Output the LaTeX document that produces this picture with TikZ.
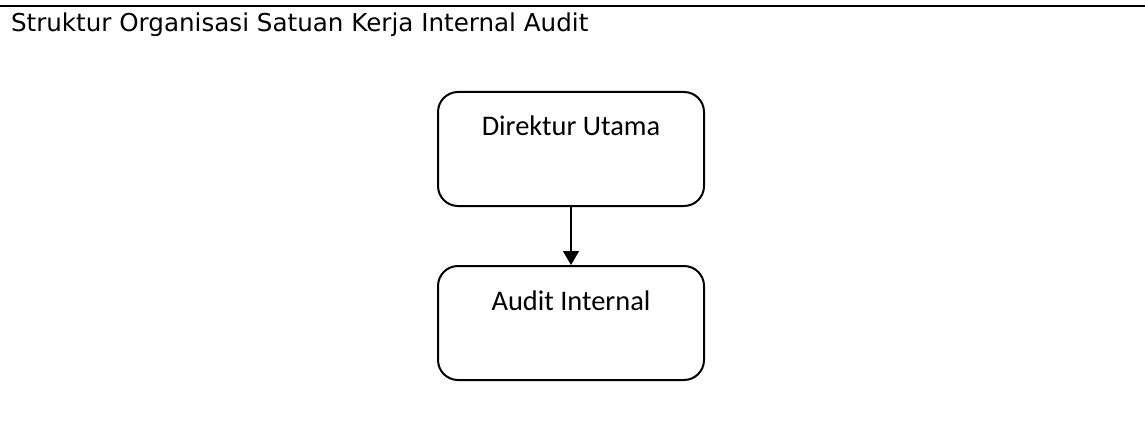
\documentclass[tikz,border=0pt]{standalone}
\usepackage{fontspec}
\usepackage{tikz}
\usetikzlibrary{arrows.meta, positioning}

\newfontfamily\titlefont{DejaVu Sans}
\newfontfamily\boxfont{Carlito}

\begin{document}
\begin{tikzpicture}[x=1pt, y=1pt, line width=2pt,
    % styles
    orgbox/.style={draw, rounded corners=20pt, minimum width=266pt, inner sep=0pt,
        text height=44pt, text depth=70pt, font=\boxfont\fontsize{28.4pt}{34pt}\selectfont},
    orgarrow/.style={line width=1.3pt, -{Triangle[width=16pt, length=14pt]}}
]
    \useasboundingbox (0,0) rectangle (1145,429);

    % --- header line and title ---
    \coordinate (rule_l) at (0,    422.8);
    \coordinate (rule_r) at (1145, 422.8);
    \draw[line width=2.3pt] (rule_l) -- (rule_r);
    \node[anchor=base west, inner sep=0pt, font=\titlefont\fontsize{24.6pt}{30pt}\selectfont]
        (title) at (10,397) {Struktur Organisasi Satuan Kerja Internal Audit};

    % --- boxes ---
    \node[orgbox, anchor=north] (dirut) at (571,338) {Direktur Utama};
    \node[orgbox, below=58pt of dirut] (audit) {Audit Internal};

    % --- connector ---
    \draw[orgarrow] (dirut) -- (audit);

\end{tikzpicture}
\end{document}
